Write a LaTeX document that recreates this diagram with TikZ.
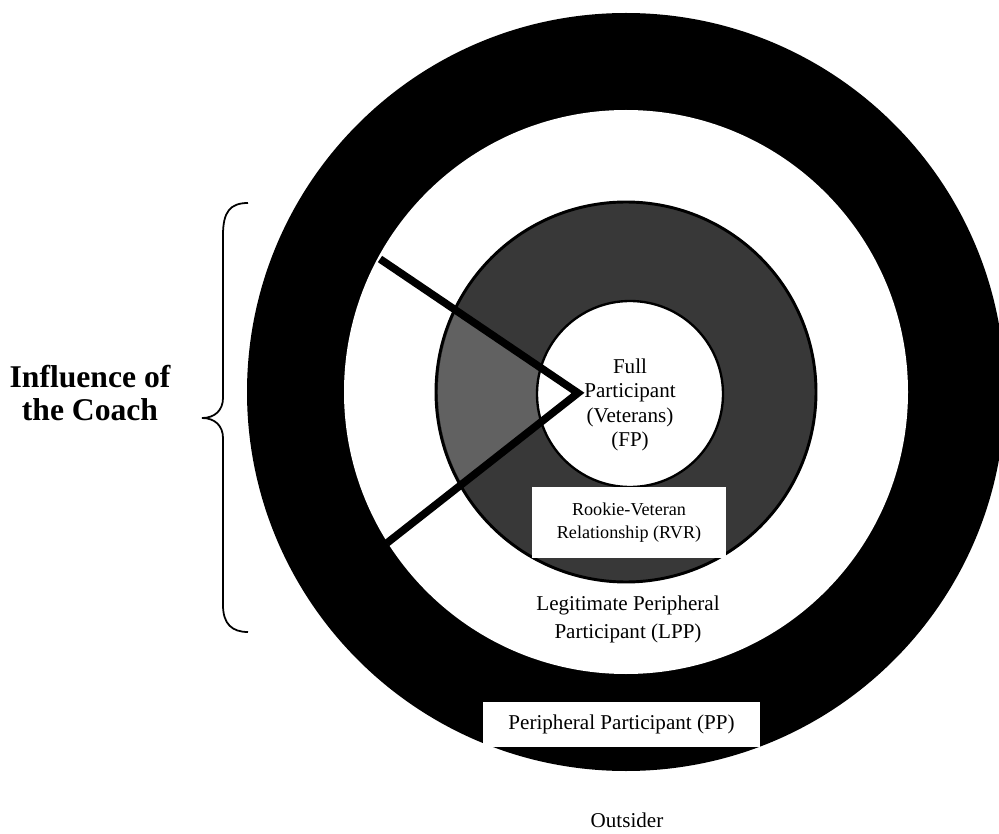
\documentclass[tikz,border=0pt]{standalone}
\usepackage{fontspec}
\setmainfont{Liberation Serif}
\usetikzlibrary{positioning, calc}

\begin{document}
\begin{tikzpicture}[x=0.3mm, y=-0.3mm,
    lbl/.style={align=center, inner sep=0pt, font=\fontsize{18}{21}\selectfont},
    labelbox/.style={fill=white, inner sep=0pt, align=center}]
  \useasboundingbox (0,0) rectangle (999,834);
  \clip (0,0) rectangle (999,834);

  % rings, outside in
  \coordinate (c) at (626,392);
  \fill[black] (c) circle [radius=379];
  \fill[white] (c) circle [radius=282];
  \filldraw[fill=black!78, draw=black, line width=2.5pt] (c) circle [radius=190];

  % lighter part of the grey ring inside the wedge
  \coordinate (apex) at (578,393);
  \coordinate (wtop) at (380,259);
  \coordinate (wbot) at (387,543);
  \begin{scope}
    \clip (apex) -- ($(apex)!1.5!(wtop)$) -- ($(apex)!1.5!(wbot)$) -- cycle;
    \fill[black!62] (c) circle [radius=188];
  \end{scope}
  \filldraw[fill=white, draw=black, line width=2pt] (630,394) circle [radius=93];

  % the wedge
  \draw[line width=6.5pt] (wtop) -- (apex) -- (wbot);

  % labels
  \node[lbl] (fp) at (630,405) {Full\\Participant\\(Veterans)\\(FP)};
  \node[labelbox, minimum width=58.2mm, minimum height=21.3mm,
        font=\fontsize{15.5}{19.6}\selectfont] (rvr) at (629,522.5)
        {Rookie-Veteran\\Relationship (RVR)};
  \node[lbl, font=\fontsize{18}{23.8}\selectfont] (lpp) at (628,619)
        {Legitimate Peripheral\\Participant (LPP)};
  \node[labelbox, minimum width=83.1mm, minimum height=13.5mm,
        font=\fontsize{18}{21}\selectfont] (pp) at (621.5,724.5)
        {Peripheral Participant (PP)};
  \node[lbl] (out) at (627,820) {Outsider};

  % brace for the coach
  \coordinate (btop) at (248,203);
  \coordinate (bbot) at (248,632);
  \coordinate (btip) at (202,418);
  \draw[line width=1.5pt] (btop) .. controls (230,203) and (223,212) .. (223,235)
    -- (223,398) .. controls (223,410) and (215,418) .. (btip)
    .. controls (215,418) and (223,426) .. (223,438)
    -- (223,605) .. controls (223,624) and (232,632) .. (bbot);
  \node[lbl, font=\fontsize{27}{28}\selectfont\bfseries] (coach) at (90,393)
        {Influence of\\the Coach};
\end{tikzpicture}
\end{document}
